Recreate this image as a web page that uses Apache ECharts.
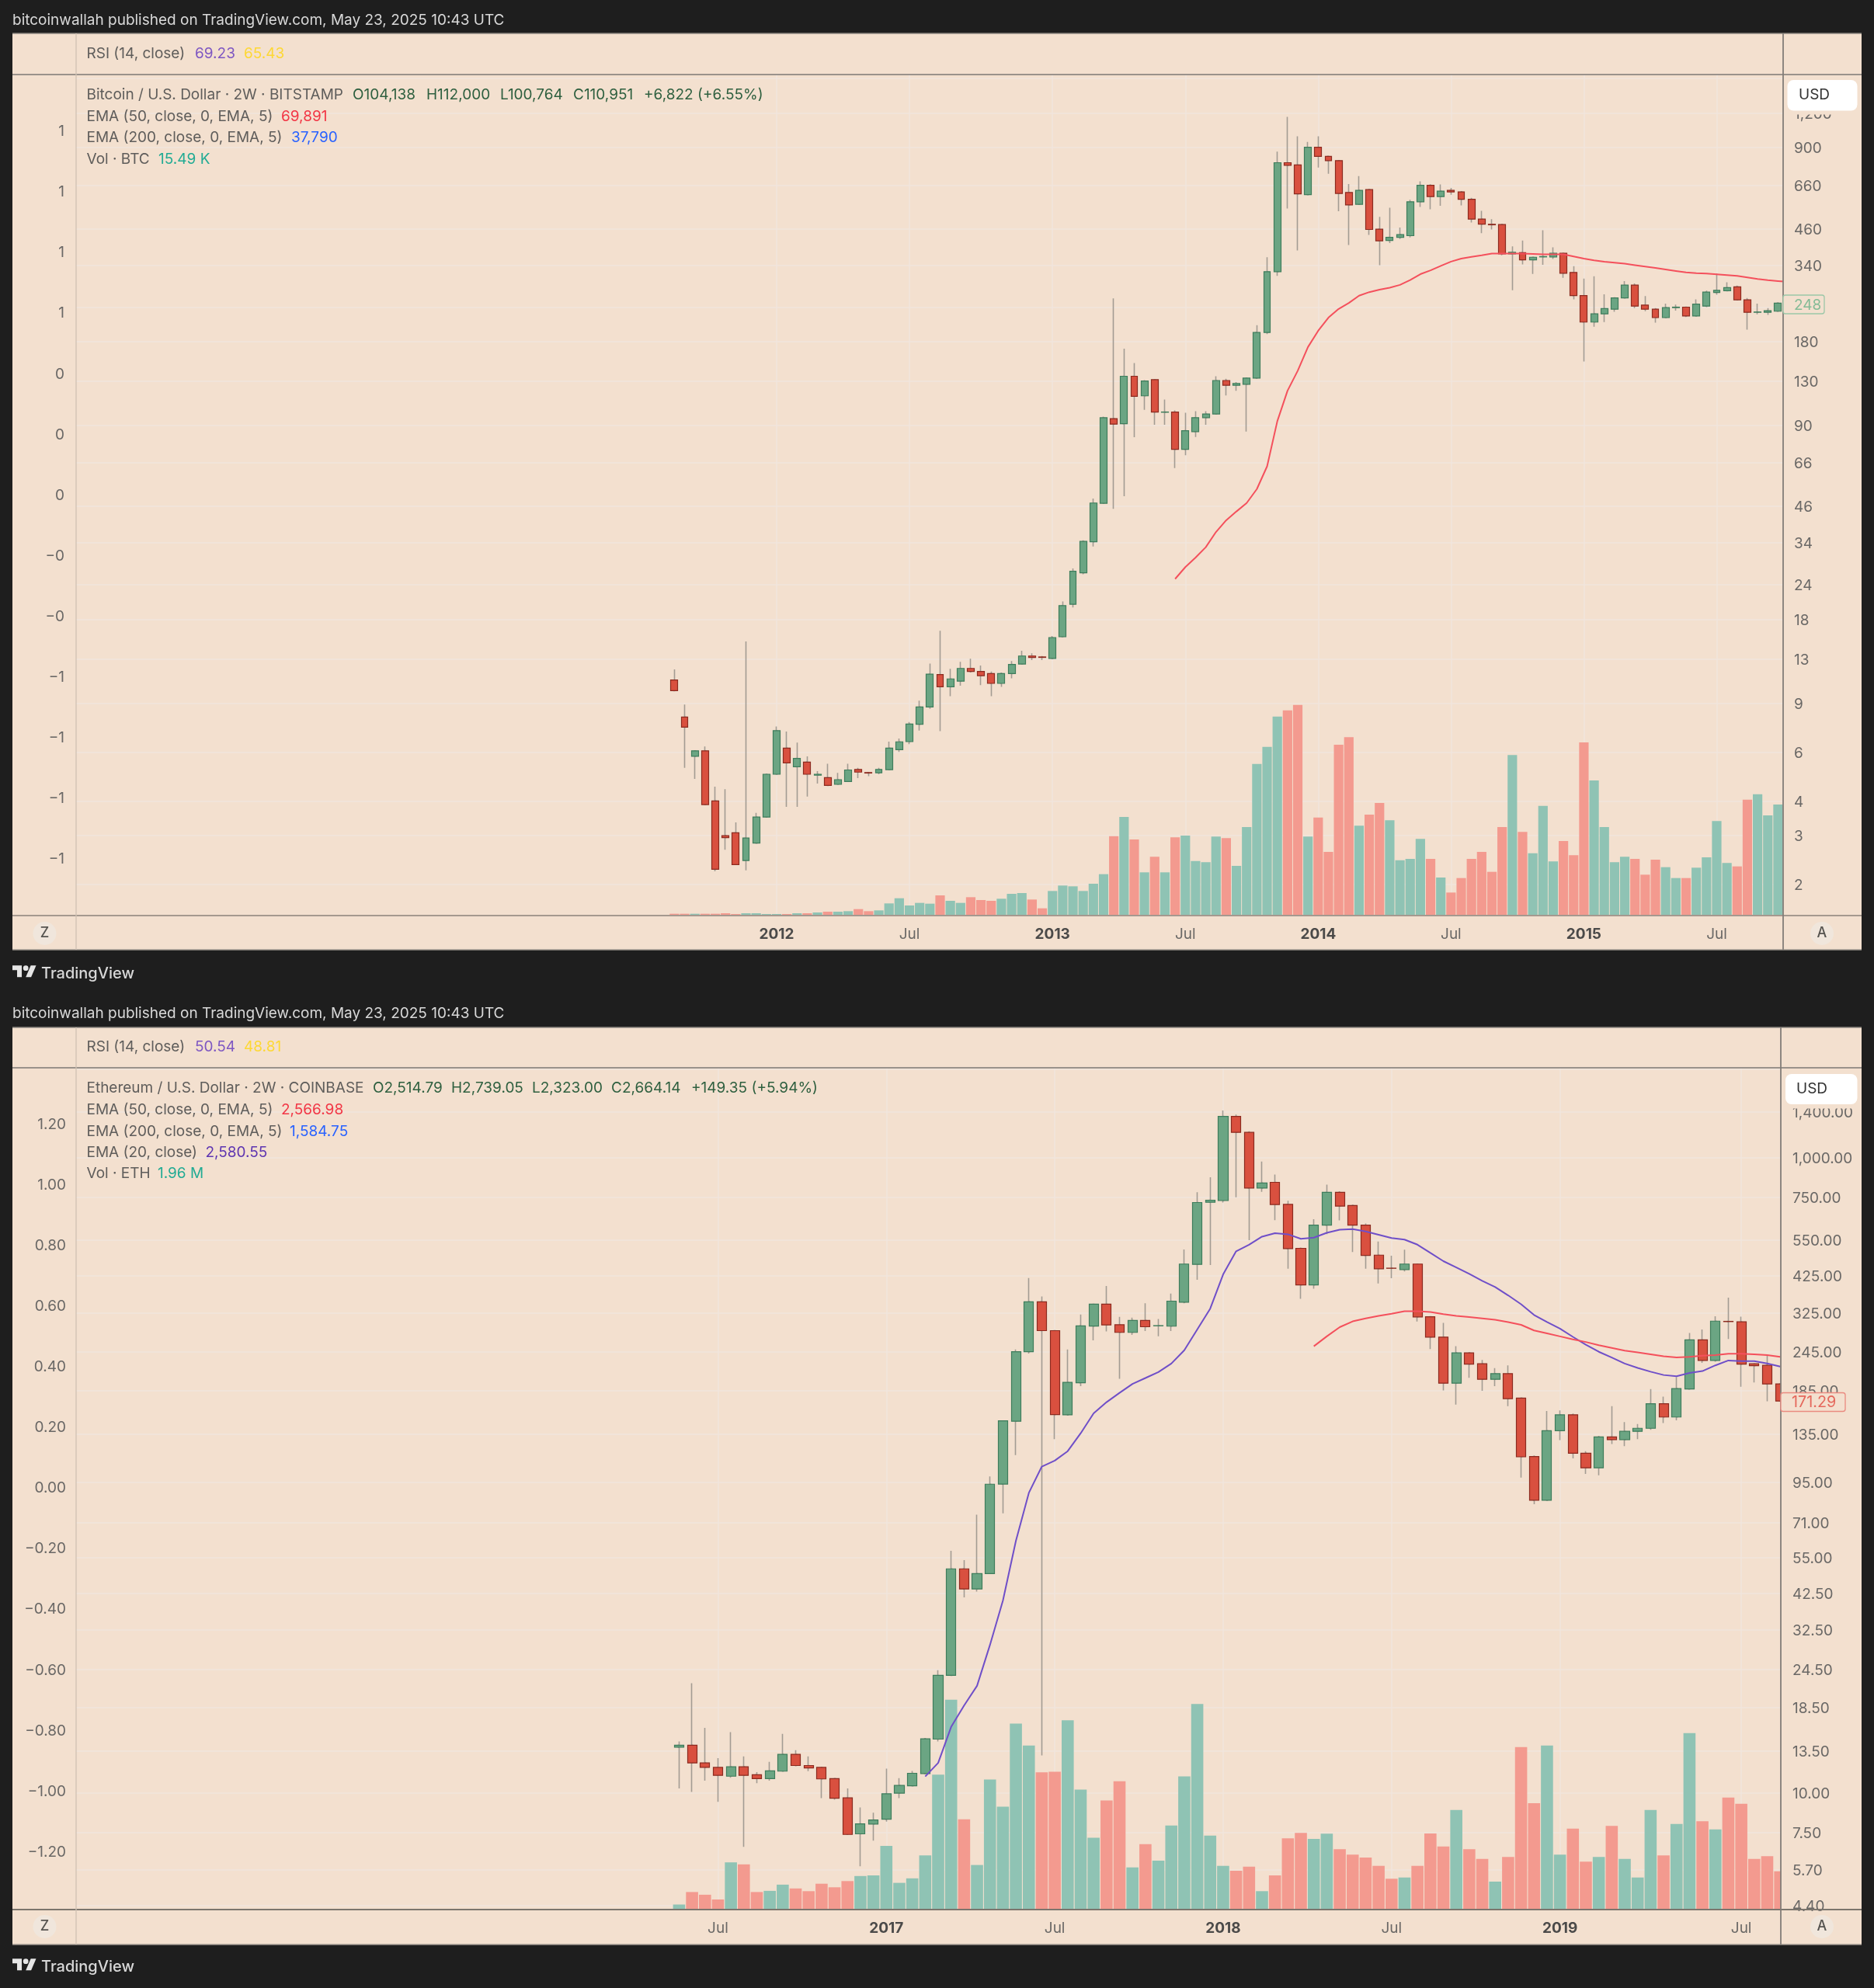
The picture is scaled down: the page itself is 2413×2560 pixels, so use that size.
<!DOCTYPE html>
<html>
<head>
<meta charset="utf-8">
<style>html,body{margin:0;padding:0;background:#1e1e1e}#c{width:2413px;height:2560px}</style>
<script src="https://cdn.jsdelivr.net/npm/echarts@6/dist/echarts.min.js"></script>
</head>
<body>
<div id="c"></div>
<script>
// ---------- Bitcoin (2W bars) ----------
const btcDates = ['2011-08-15','2011-08-29','2011-09-12','2011-09-26','2011-10-10','2011-10-24','2011-11-07','2011-11-21','2011-12-05','2011-12-19','2012-01-02','2012-01-16','2012-01-30','2012-02-13','2012-02-27','2012-03-12','2012-03-26','2012-04-09','2012-04-23','2012-05-07','2012-05-21','2012-06-04','2012-06-18','2012-07-02','2012-07-16','2012-07-30','2012-08-13','2012-08-27','2012-09-10','2012-09-24','2012-10-08','2012-10-22','2012-11-05','2012-11-19','2012-12-03','2012-12-17','2012-12-31','2013-01-14','2013-01-28','2013-02-11','2013-02-25','2013-03-11','2013-03-25','2013-04-08','2013-04-22','2013-05-06','2013-05-20','2013-06-03','2013-06-17','2013-07-01','2013-07-15','2013-07-29','2013-08-12','2013-08-26','2013-09-09','2013-09-23','2013-10-07','2013-10-21','2013-11-04','2013-11-18','2013-12-02','2013-12-16','2013-12-30','2014-01-13','2014-01-27','2014-02-10','2014-02-24','2014-03-10','2014-03-24','2014-04-07','2014-04-21','2014-05-05','2014-05-19','2014-06-02','2014-06-16','2014-06-30','2014-07-14','2014-07-28','2014-08-11','2014-08-25','2014-09-08','2014-09-22','2014-10-06','2014-10-20','2014-11-03','2014-11-17','2014-12-01','2014-12-15','2014-12-29','2015-01-12','2015-01-26','2015-02-09','2015-02-23','2015-03-09','2015-03-23','2015-04-06','2015-04-20','2015-05-04','2015-05-18','2015-06-01','2015-06-15','2015-06-29','2015-07-13','2015-07-27','2015-08-10','2015-08-24','2015-09-07','2015-09-21','2015-10-05'];
const btcOpen = [10.9,8.02,5.79,6.06,4.0,3.0,3.07,2.44,2.82,3.50,4.99,6.20,5.31,5.52,4.95,4.85,4.59,4.70,5.19,5.06,5.05,5.18,6.12,6.54,7.55,8.72,11.4,10.3,10.8,12.0,11.7,11.5,10.6,11.5,12.45,13.3,13.2,13.03,15.6,20.43,26.5,34.3,47.2,95.2,91.3,135.3,115,131.5,100.4,100.6,73.8,85.5,96,99,130.6,125.6,126.6,133.3,194.5,322,795,780,610,903,838,809,621,563,636,458,417,428,434,575,659,600,632,624,587,498,477,476,373,377,355,364,364,375,320,264,212,227,236,259,288,244,236,220,239,240,223,242,271,275,284,255,230,230,232];
const btcClose = [9.98,7.37,6.06,3.88,2.27,2.95,2.36,2.94,3.50,4.99,7.16,5.48,5.69,4.99,4.99,4.55,4.77,5.17,5.08,5.04,5.19,6.20,6.53,7.57,8.72,11.45,10.3,11.0,12.0,11.7,11.3,10.6,11.5,12.4,13.3,13.15,13.15,15.5,20.2,26.85,34.4,47.3,95.9,91,135.3,114.6,130,100.6,100.6,73.8,86.2,96,99,130.6,125.6,127.5,133.3,194.5,322,795,778,614,903,838,809,616,560,632,457,416,428,438,575,659,600,628,624,587,498,477.5,475,373,378,355,363,365,375,318,264,212,227,237,259,288,242,236,220,239,240,223,246,272,276,282,255,230,230.5,233,248];
const btcLow = [9.95,5.26,4.80,3.87,2.23,2.67,2.36,2.25,2.82,3.50,4.98,3.81,3.81,4.15,4.62,4.55,4.58,4.70,4.83,4.91,4.99,5.15,6.01,6.40,7.17,8.58,7.13,9.54,10.4,11.6,10.45,9.54,10.3,11.06,12.4,12.85,12.85,13.03,15.55,19.9,26.2,33.0,47.2,45.1,50,81.6,102.4,90.5,90.5,63.2,70.3,81.8,90.5,98.5,115.3,120,85.5,133,192,311,544,384,610,764,725,532,402,562,437,340,408,422,428,551,540,556,610,558,484,443,457,369,276,342,316,341,358,306,256,153,204,212,231,258,238,232,211,219,233,221,222,240,266,274,254,199,226,225,232];
const btcHigh = [11.9,8.89,6.06,6.28,4.5,4.41,3.35,15.0,3.62,4.99,7.41,7.11,6.49,5.79,5.12,5.44,5.05,5.44,5.26,5.06,5.26,6.54,6.71,7.70,9.18,12.5,16.4,11.96,12.67,13.0,12.3,11.7,11.6,12.75,13.9,13.6,13.3,15.7,20.9,27.5,34.7,49.1,96.8,258,170,151,131,132,111.6,102,100,101.2,101.2,135.3,132.6,129,134,206.5,363,872,1162,990,945,990,842,813,666,711,640,507,547,464,585,681,665,664,645,628,594,533,498,476,397,417,363,454,394,377,337,304,310,267,259,298,292,263,238,247,245,240,256,275,317,295,287,259,247,238,250];
const btcVolume = [7,7,7,7,7,9,6,9,9,6,6,6,9,9,12,15,15,17,25,17,20,47,67,39,49,46,78,57,49,71,60,57,65,84,87,62,28,95,116,113,95,123,160,307,381,294,167,227,167,302,309,211,206,305,299,192,342,586,652,769,793,814,305,379,246,660,689,347,390,435,368,214,219,296,219,147,89,145,219,246,169,342,620,323,241,424,209,288,233,669,522,342,206,227,219,158,216,187,145,145,185,225,365,203,190,448,469,387,429];
const btcEma50Dates = btcDates.slice(49).concat(['2015-10-19']);
const btcEma50 = [25.2,27.8,30.1,32.8,37.2,41.0,44.1,47.3,53.1,64.1,93.2,120,141.7,172.4,197.3,220,236.5,248.4,264,271.8,277.3,282,288.6,300.5,315.5,325.7,338,350,359,364,368.7,374,374,374,374,373,372,372,372,365.5,359,354,350,347,344,340,336,332,328,324,320,318,317,315,313,311,307,303,300,298,296];
const btcPriceTicks = [1600,1200,900,660,460,340,240,180,130,90,66,46,34,24,18,13,9,6,4,3,2];
const btcPriceLabels = ['','1,200','900','660','460','340','240','180','130','90','66','46','34','24','18','13','9','6','4','3','2'];
const btcTimeTicks = ['2012-01-02','2012-07-02','2013-01-14','2013-07-15','2014-01-13','2014-07-14','2015-01-12','2015-07-13'];
const btcTimeLabels = ['2012','Jul','2013','Jul','2014','Jul','2015','Jul'];

// ---------- Ethereum (2W bars) ----------
const ethDates = ['2016-05-23','2016-06-06','2016-06-20','2016-07-04','2016-07-18','2016-08-01','2016-08-15','2016-08-29','2016-09-12','2016-09-26','2016-10-10','2016-10-24','2016-11-07','2016-11-21','2016-12-05','2016-12-19','2017-01-02','2017-01-16','2017-01-30','2017-02-13','2017-02-27','2017-03-13','2017-03-27','2017-04-10','2017-04-24','2017-05-08','2017-05-22','2017-06-05','2017-06-19','2017-07-03','2017-07-17','2017-07-31','2017-08-14','2017-08-28','2017-09-11','2017-09-25','2017-10-09','2017-10-23','2017-11-06','2017-11-20','2017-12-04','2017-12-18','2018-01-01','2018-01-15','2018-01-29','2018-02-12','2018-02-26','2018-03-12','2018-03-26','2018-04-09','2018-04-23','2018-05-07','2018-05-21','2018-06-04','2018-06-18','2018-07-02','2018-07-16','2018-07-30','2018-08-13','2018-08-27','2018-09-10','2018-09-24','2018-10-08','2018-10-22','2018-11-05','2018-11-19','2018-12-03','2018-12-17','2018-12-31','2019-01-14','2019-01-28','2019-02-11','2019-02-25','2019-03-11','2019-03-25','2019-04-08','2019-04-22','2019-05-06','2019-05-20','2019-06-03','2019-06-17','2019-07-01','2019-07-15','2019-07-29','2019-08-12','2019-08-26'];
const ethOpen = [13.9,14.1,12.4,12.0,11.26,12.06,11.38,11.07,11.68,13.2,12.17,12,11.07,9.62,7.41,7.96,8.24,9.96,10.5,11.48,14.74,23.4,50.7,43.8,49,93.8,148,245,352,285.6,155,195.6,295.3,346,298,282,307.5,295.8,295,351,462,725,734,1352,1204,804,838,714,519,398,614,779,708,614,494,449.5,445,463,316,272.5,195,243,224.5,200.6,209,175,114.6,83.4,138.2,155,117.3,105.5,132,129.5,137.5,140.6,168,152.6,187,267,230,305.5,304.5,224.5,222,194];
const ethClose = [14.1,12.4,12.0,11.33,12.06,11.33,11.07,11.7,13.2,12.17,11.96,11.04,9.6,7.38,7.97,8.2,9.91,10.53,11.5,14.77,23.4,50.7,43.8,49,93.7,148.4,245,352,285.6,155.3,196.3,295.8,346,297.7,282,307.5,293.8,296.2,353.8,463,723.7,736,1352,1204,804,834,713,518,398,614,779,705,614,493,447.5,449,463,315.5,272.5,195,243,224,200.6,209,174.4,114.3,83.4,138.2,155,117.3,105.5,132,129.5,137.5,140.6,168,152.6,187.6,267,230,306,305,224,221.5,194,171.29];
const ethLow = [10.3,10.04,10.9,9.35,11.14,6.74,10.7,10.9,11.65,12.1,11.68,9.6,9.5,7.35,5.86,7.05,8.1,9.6,10.46,11.45,14.5,23.3,41.2,43,48.8,75.9,115.8,242,13.1,129.9,154,190.9,266,284,201.5,277,285,274,285,348.5,413,460,724,752,551,782,637,447.5,360,387,575,636,505,447.5,402,418,439,305,250,185,167,202.7,184.5,191,165,98.3,81,83.2,129,113,101,100,125.5,123.5,130,139,146,149,186,226,228,269,190,196,171,170.5];
const ethHigh = [14.5,22.1,16.0,12.84,15.5,13.0,11.6,12.5,15.3,13.6,13.0,12.06,11.1,10.3,8.98,8.64,11.9,11.1,11.7,14.87,24.3,57.8,54,75.1,99.2,149,249,418.6,366,287,249,321,347,395,315.5,314,348.5,310.6,374,515,780,869,1412,1370,1214,974,886,733,522,641,824,785,713,622,545,492,514,465,317,302,255,244,231,217.5,222,176,115.5,159.3,160,156.5,119,133,165,147,145,187,177,204,281,288,317,363,316,225,238.5,195];
const ethVolume = [6.5,22.6,19.1,13,60.8,58.2,22.6,24.1,32.1,27.2,23.7,33.3,28.7,36.7,43.2,44,81.9,34.4,40.2,69.7,173.7,270.2,116.3,57.4,167.6,132.4,239.6,211.3,176.8,177.6,243.8,154.6,92.6,140.5,165.3,54.3,84.2,63.1,108.3,171.4,264.8,95.3,56.3,50,55.3,23.7,44,91.7,98.7,91,97.7,77.7,70.7,67,56.3,39.7,41.3,56.3,98,81.3,128.3,77.7,65.3,36,67.7,209.3,137,211.3,70.7,104.3,61.7,67.7,107.7,65.3,41.3,128.3,69.7,110.3,227.3,113.7,103.3,144.3,136.3,65.3,68.7,49.3];
const ethEma20Dates = ethDates.slice(19);
const ethEma20 = [11.24,12.4,16.1,18.8,21.7,29.2,40.3,62.1,88,106.5,111.2,119.1,135.6,156.7,170,181.8,194,202.5,211.5,225,247.8,288,335,429.5,508,532.7,565,579.6,574.7,556,561,581,594.5,597,587,573,559,553,533,502,473,452,431,410,392,369,346,320,304,290,273,258,245,235,225,218,212,207,205,210,213,222,230,229,229,225,220];
const ethEma50Dates = ethDates.slice(49);
const ethEma50 = [255,274,293,305.5,312,318,323,329,329,327,322,318,315,312,309,304,298,286,280,274,268,263,257,252,247,244,240.5,237,235,236,238,239,241.5,241.5,240.5,239,236];
const ethPriceTicks = [1900,1400,1000,750,550,425,325,245,185,135,95,71,55,42.5,32.5,24.5,18.5,13.5,10,7.5,5.7,4.4];
const ethPriceLabels = ['','1,400.00','1,000.00','750.00','550.00','425.00','325.00','245.00','185.00','135.00','95.00','71.00','55.00','42.50','32.50','24.50','18.50','13.50','10.00','7.50','5.70','4.40'];
const ethTimeTicks = ['2016-07-04','2017-01-02','2017-07-03','2018-01-01','2018-07-02','2018-12-31','2019-07-15'];
const ethTimeLabels = ['Jul','2017','Jul','2018','Jul','2019','Jul'];

const leftTicks = [1.2,1.0,0.8,0.6,0.4,0.2,0,-0.2,-0.4,-0.6,-0.8,-1.0,-1.2];

// ---------- style ----------
const FONT = 'Inter', FS = 19;
const PAGE = '#1e1e1e', PANEL = '#f3e0cf', GRID = '#f0e6dd';
const UP = '#6ba583', DOWN = '#d9503f', UP_EDGE = '#3f7d5c', DOWN_EDGE = '#8c2b20', WICK = '#a39c93';
const VOL_UP = '#8fc3b4', VOL_DOWN = '#f39a8f';
const TXT = '#5f5d5b', AXIS_TXT = '#6a6866';
const DAY = 86400000, BAR = 14 * DAY;
const ms = d => echarts.time.parse(d).getTime();
const LABEL_RICH = { v:{ fontFamily:FONT, fontSize:FS, color:AXIS_TXT, padding:[3,0,0,0] } };

function panelSeries(ix, yBase, dates, o, c, l, h, vol, bodyW, volW) {
  const up = i => c[i] >= o[i];
  return [
    { type:'bar', xAxisIndex:ix, yAxisIndex:yBase+2, barWidth:volW, silent:true,
      data: vol.map((v,i)=>({value:[ms(dates[i]),v], itemStyle:{color: up(i)?VOL_UP:VOL_DOWN}})), z:1 },
    { type:'candlestick', xAxisIndex:ix, yAxisIndex:yBase, barWidth:1.5, silent:true, z:2,
      data: dates.map((d,i)=>[ms(d),o[i],c[i],l[i],h[i]]),
      itemStyle:{color:WICK,color0:WICK,borderColor:WICK,borderColor0:WICK,borderColorDoji:WICK,borderWidth:1.6} },
    { type:'candlestick', xAxisIndex:ix, yAxisIndex:yBase, barWidth:bodyW, silent:true, z:3,
      data: dates.map((d,i)=>[ms(d),o[i],c[i],Math.min(o[i],c[i]),Math.max(o[i],c[i])]),
      itemStyle:{color:UP,color0:DOWN,borderColor:UP_EDGE,borderColor0:DOWN_EDGE,borderColorDoji:UP_EDGE,borderWidth:1.2} }
  ];
}
function emaLine(ix, yi, dates, vals, color) {
  return { type:'line', xAxisIndex:ix, yAxisIndex:yi, showSymbol:false, silent:true, z:4,
    data: vals.map((v,i)=>[ms(dates[i]),v]), lineStyle:{color, width:2} };
}
function timeAxis(gi, ticks, labels, firstDate, before, after) {
  const map = {}, nums = ticks.map(ms);
  nums.forEach((t,i)=>map[t]=labels[i]);
  const t0 = ms(firstDate);
  return { type:'value', gridIndex:gi, min:t0-before*BAR, max:t0+after*BAR,
    axisLine:{show:false}, axisTick:{show:false, customValues:nums},
    splitLine:{show:true, lineStyle:{color:GRID,width:1.5}},
    axisLabel:{ customValues:nums, margin:14.5, hideOverlap:false, showMinLabel:true, showMaxLabel:true,
      formatter:v=>{const s=map[v]||''; return /\d/.test(s)?'{y|'+s+'}':'{m|'+s+'}';},
      rich:{ y:{fontFamily:FONT,fontSize:FS,fontWeight:700,color:'#4b4a49'}, m:{fontFamily:FONT,fontSize:FS,color:AXIS_TXT} } } };
}
// the log axis that scales the candles and draws the grid; its labels come from priceLabelAxis so they can sit above the edge cover
function priceAxis(gi, ticks, min, max) {
  return { type:'log', gridIndex:gi, position:'right', min, max, logBase:10, z:0,
    axisLine:{show:false}, axisTick:{show:false, customValues:ticks},
    splitLine:{show:true, lineStyle:{color:GRID,width:1.5}},
    minorTick:{show:false}, minorSplitLine:{show:false},
    axisLabel:{show:false} };
}
function priceLabelAxis(gi, ticks, labels, min, max, margin) {
  const map = {}; ticks.forEach((t,i)=>map[t]=labels[i]);
  return { type:'log', gridIndex:gi, position:'right', min, max, logBase:10, z:10,
    axisLine:{show:false}, axisTick:{show:false, customValues:ticks}, splitLine:{show:false},
    minorTick:{show:false}, minorSplitLine:{show:false},
    axisLabel:{ customValues:ticks, margin, align:'left', rich:LABEL_RICH,
      showMinLabel:true, showMaxLabel:true, hideOverlap:false,
      formatter:v=>{ const k=Object.keys(map).find(t=>Math.abs(+t/v-1)<1e-6); return k&&map[k]?'{v|'+map[k]+'}':''; } } };
}
function leftAxis(gi, min, max, fmt, margin) {
  return { type:'value', gridIndex:gi, position:'left', min, max,
    axisLine:{show:false}, axisTick:{show:false, customValues:leftTicks}, splitLine:{show:false},
    axisLabel:{ customValues:leftTicks, margin, rich:LABEL_RICH, formatter:v=>'{v|'+fmt(v)+'}', showMinLabel:true, showMaxLabel:true } };
}
function volAxis(gi, max){ return { type:'value', gridIndex:gi, show:false, min:0, max, splitLine:{show:false} }; }

// ---------- decoration ----------
function T(x,y,text,fill,extra){
  return {type:'text',x,y,z:200,silent:true,style:Object.assign({text,fill:fill||TXT,font:FS+'px '+FONT,verticalAlign:'middle'},extra||{})};
}
function L(x1,y1,x2,y2,stroke,w,z){ return {type:'line',z:z||150,silent:true,shape:{x1,y1,x2,y2},style:{stroke,lineWidth:w||1.5}}; }
function R(x,y,w,h,fill,stroke,r,z){ return {type:'rect',z:z===undefined?180:z,silent:true,shape:{x,y,width:w,height:h,r:r||0},style:{fill,stroke:stroke||null,lineWidth:stroke?1.3:0}}; }
function logo(x,y){
  const sx=.86, sy=.83, P=pts=>pts.map(p=>[x+p[0]*sx,y+p[1]*sy]);
  const st={fill:'#e6e6e6'};
  return [
    {type:'polygon',z:200,silent:true,shape:{points:P([[0,4],[14,4],[14,22],[7,22],[7,11],[0,11]])},style:st},
    {type:'polygon',z:200,silent:true,shape:{points:P([[20,22],[28,22],[35.5,4],[27.5,4]])},style:st},
    {type:'circle',z:200,silent:true,shape:{cx:x+20*sx,cy:y+8*sy,r:3.4},style:st}
  ];
}
function frame(top,sep,axisY,bottom,right,axisColor,sideColor){
  return [
    R(16,top,2397-16,bottom-top,PANEL,null,0,-10),
    R(right,sep,2397-right,axisY-sep,PANEL,null,0,5),
    L(16,top,2397,top,'#8a857f',1.5),
    L(16,sep,2397,sep,'#7d7874',1.6),
    L(16,axisY,2397,axisY,axisColor,1.8),
    L(16,bottom,2397,bottom,'#a09a92',1.5),
    L(98,top,98,bottom,sideColor,1.3),
    L(right,top,right,bottom,'#827d78',1.8),
    R(2397,top,16,bottom-top,PAGE,null,0,160)
  ];
}
function buttons(y,ax){
  return [
    {type:'circle',z:190,silent:true,shape:{cx:57.5,cy:y,r:15},style:{fill:'#f0e6dc'}},
    T(57.5,y,'Z','#55534f',{align:'center',font:'500 18px '+FONT}),
    {type:'circle',z:190,silent:true,shape:{cx:ax,cy:y,r:15},style:{fill:'#f0e6dc'}},
    T(ax,y,'A','#55534f',{align:'center',font:'500 18px '+FONT})
  ];
}
const HEAD = '#d8d8d8', GREEN = '#2e5f3f', RED = '#f23645', BLUE = '#2962ff', PURPLE = '#7e57c2', YEL = '#fdd835', TEAL = '#22ab94';

const elements = [].concat(
  frame(43,96,1179,1223,2296,'#a5998f','#cfc2b4'),
  frame(1323,1375,2459,2504,2293,'#7c756d','#cfc2b4'),
  buttons(1202,2346), buttons(2481,2346),
  logo(16,1240), logo(16,2519),
  [
   T(16,26,'bitcoinwallah published on TradingView.com, May 23, 2025 10:43 UTC',HEAD),
   T(111.5,69,'RSI (14, close)'), T(251,69,'69.23',PURPLE), T(314,69,'65.43',YEL),
   T(111.5,122,'Bitcoin / U.S. Dollar · 2W · BITSTAMP'),
   T(454,122,'O104,138',GREEN), T(549,122,'H112,000',GREEN), T(644,122,'L100,764',GREEN), T(738,122,'C110,951',GREEN), T(829,122,'+6,822 (+6.55%)',GREEN),
   T(111.5,150,'EMA (50, close, 0, EMA, 5)'), T(362,150,'69,891',RED),
   T(111.5,177,'EMA (200, close, 0, EMA, 5)'), T(375,177,'37,790',BLUE),
   T(111.5,205,'Vol · BTC'), T(204,205,'15.49 K',TEAL),
   T(53,1253.5,'TradingView',HEAD,{font:'500 20px '+FONT}),
   R(2297,142,100,5.5,PANEL,null,0,184),
   R(2301.5,103,90,39.5,'#ffffff',null,8,185), T(2316,122,'USD','#333333'),
   R(2296,380,53,24,PANEL,'#9cc7a8',3,185), T(2310,393,'248','#84bb96'),

   T(16,1305,'bitcoinwallah published on TradingView.com, May 23, 2025 10:43 UTC',HEAD),
   T(111.5,1348,'RSI (14, close)'), T(251,1348,'50.54',PURPLE), T(314,1348,'48.81',YEL),
   T(111.5,1401,'Ethereum / U.S. Dollar · 2W · COINBASE'),
   T(480,1401,'O2,514.79',GREEN), T(581,1401,'H2,739.05',GREEN), T(685,1401,'L2,323.00',GREEN), T(787,1401,'C2,664.14',GREEN), T(890,1401,'+149.35 (+5.94%)',GREEN),
   T(111.5,1429,'EMA (50, close, 0, EMA, 5)'), T(362,1429,'2,566.98',RED),
   T(111.5,1457,'EMA (200, close, 0, EMA, 5)'), T(373,1457,'1,584.75',BLUE),
   T(111.5,1484,'EMA (20, close)'), T(264.5,1484,'2,580.55','#5e35b1'),
   T(111.5,1511,'Vol · ETH'), T(203,1511,'1.96 M',TEAL),
   T(53,2532.5,'TradingView',HEAD,{font:'500 20px '+FONT}),
   R(2294,1422,103,5.5,PANEL,null,0,184),
   R(2299,1383,92.5,39,'#ffffff',null,8,185), T(2313,1402,'USD','#333333'),
   R(2293,1793.5,83,24,PANEL,'#ea8a80',3,185), T(2307,1806.5,'171.29','#e5685c',{font:'19.8px '+FONT})
  ]
);

const option = {
  backgroundColor: PAGE, animation:false,
  textStyle:{fontFamily:FONT},
  graphic:{elements},
  grid:[ {left:98,top:96,width:2198,height:1083}, {left:98,top:1375,width:2195,height:1084} ],
  xAxis:[
    timeAxis(0,btcTimeTicks,btcTimeLabels,btcDates[0],58.55,108.5),
    timeAxis(1,ethTimeTicks,ethTimeLabels,ethDates[0],46.55,85.05)
  ],
  yAxis:[
    priceAxis(0,btcPriceTicks,1.546,1651),
    leftAxis(0,-1.389,1.384,v=>v.toFixed(0).replace('-','−'),15),
    volAxis(0,3249),
    priceAxis(1,ethPriceTicks,4.278,1924),
    leftAxis(1,-1.394,1.385,v=>v.toFixed(2).replace('-','−'),13),
    volAxis(1,1084),
    priceLabelAxis(0,btcPriceTicks,btcPriceLabels,1.546,1651,14),
    priceLabelAxis(1,ethPriceTicks,ethPriceLabels,4.278,1924,15)
  ],
  series:[].concat(
    panelSeries(0,0,btcDates,btcOpen,btcClose,btcLow,btcHigh,btcVolume,9.4,12.2),
    [emaLine(0,0,btcEma50Dates,btcEma50,'#f4505c')],
    panelSeries(1,3,ethDates,ethOpen,ethClose,ethLow,ethHigh,ethVolume,12.6,15.6),
    [emaLine(1,3,ethEma20Dates,ethEma20,'#6f4fc8'), emaLine(1,3,ethEma50Dates,ethEma50,'#f4505c')]
  )
};
const chart = echarts.init(document.getElementById('c'),null,{renderer:'canvas',width:2413,height:2560});
chart.setOption(option);
</script>
</body>
</html>
